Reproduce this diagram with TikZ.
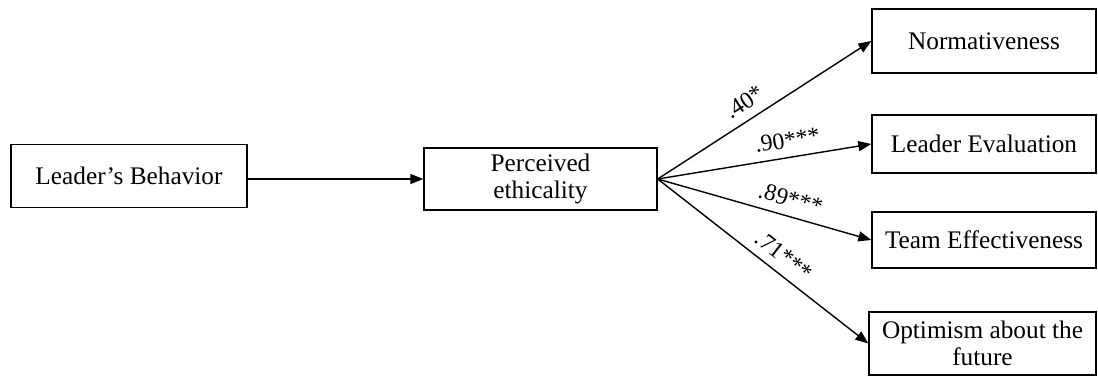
\documentclass[tikz,border=0pt]{standalone}
\usepackage{fontspec}
\setmainfont{Liberation Serif}
\usetikzlibrary{arrows.meta}
\begin{document}
\begin{tikzpicture}[x=0.02cm, y=-0.02cm,
    box/.style={draw, line width=0.8pt, align=center, inner sep=2pt, font=\fontsize{14.4}{15.5}\selectfont},
    link/.style={-{Triangle[length=0.26cm, width=0.2cm]}, line width=0.8pt},
    coef/.style={font=\fontsize{13.5}{15}\selectfont, sloped, above, inner sep=5pt}]
    \useasboundingbox (0, 0) rectangle (1098, 376);

    % predictor and mediator
    \node[box, minimum width=4.72cm, minimum height=1.26cm] (behavior) at (129, 176) {Leader’s Behavior};
    \node[box, minimum width=4.66cm, minimum height=1.24cm] (ethic) at (540.5, 179) {Perceived\\ethicality};

    % outcomes
    \node[box, minimum width=4.48cm, minimum height=1.28cm] (norm) at (984, 41) {Normativeness};
    \node[box, minimum width=4.48cm, minimum height=1.16cm] (evalu) at (984, 144) {Leader Evaluation};
    \node[box, minimum width=4.48cm, minimum height=1.12cm] (team) at (984, 240) {Team Effectiveness};
    \node[box, minimum width=4.54cm, minimum height=1.26cm] (optim) at (982.5, 343.5) {Optimism about the\\future};

    % paths
    \draw[link] (behavior.east |- ethic.west) -- (ethic.west);
    \draw[link] (ethic.east) -- (norm.west) node[coef, pos=0.45] {.40*};
    \draw[link] (ethic.east) -- (evalu.west) node[coef, pos=0.62] {.90***};
    \draw[link] (ethic.east) -- (team.west) node[coef, pos=0.6] {.89***};
    \draw[link] (ethic.east) -- (optim.west) node[coef, pos=0.55] {.71***};
\end{tikzpicture}
\end{document}
